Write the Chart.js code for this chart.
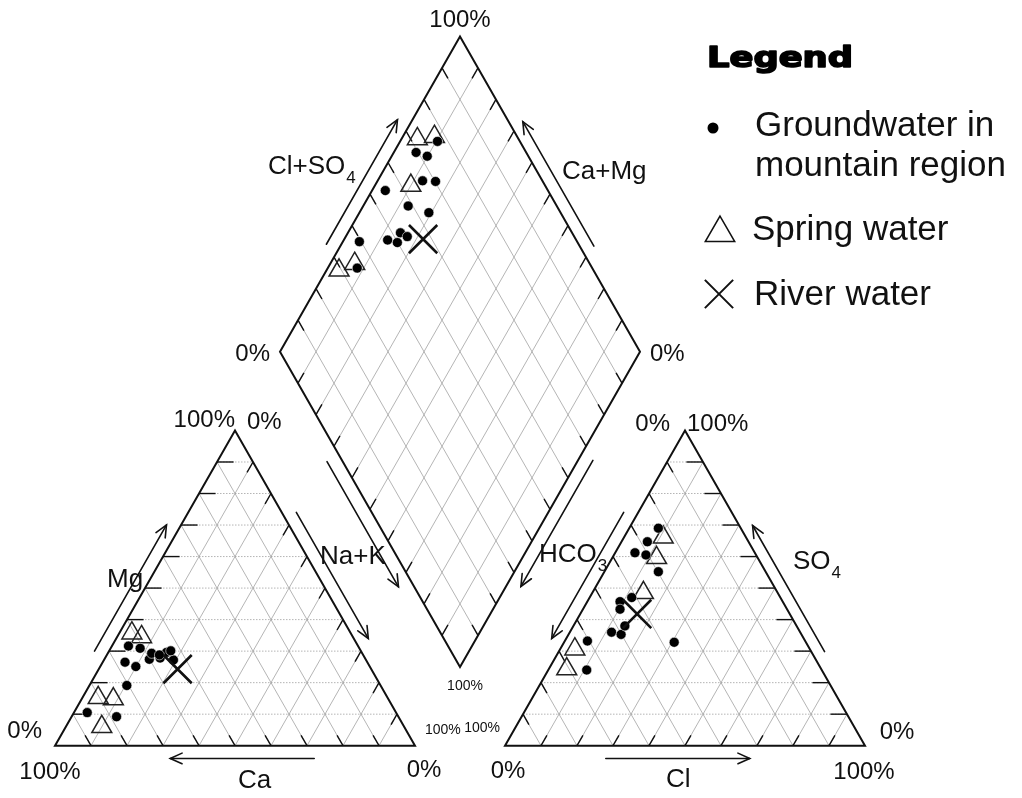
<!DOCTYPE html>
<html>
<head>
<meta charset="utf-8">
<title>Piper diagram</title>
<script src="https://cdn.jsdelivr.net/npm/chart.js@4.4.1/dist/chart.umd.min.js"></script>
<style>
  html, body { margin: 0; padding: 0; background: #ffffff; }
  #box { position: relative; width: 1022px; height: 798px; }
</style>
</head>
<body>
<div id="box"><canvas id="piper"></canvas></div>
<script>
// ---------- Sample chemistry (meq %) ----------
// Groundwater in mountain region
const gwCa   = [70.5, 67.3, 65.0, 60.1, 54.2, 85.8, 78.3, 53.5, 63.8, 58.5, 56.9, 56.6, 52.8, 60.9];
const gwMg   = [19.1, 26.5, 25.1, 27.4, 29.6, 10.5,  9.2, 27.2, 31.6, 29.3, 27.8, 28.8, 30.1, 30.9];
const gwNaK  = [10.4,  6.2,  9.9, 12.5, 16.2,  3.7, 12.5, 19.3,  4.6, 12.2, 15.3, 14.6, 17.1,  8.2];
const gwHCO3 = [22.9, 30.6, 28.1, 33.3, 29.8, 45.2, 41.3, 36.6, 60.5, 52.4, 50.1, 47.7, 46.4, 65.3];
const gwCl   = [ 8.1,  8.9,  7.2,  5.5, 15.0,  9.1, 11.7, 30.6,  6.3, 11.6, 14.6, 14.3, 10.3, 10.7];
const gwSO4  = [69.0, 60.5, 64.7, 61.2, 55.2, 45.7, 47.0, 32.8, 33.2, 36.0, 35.3, 38.0, 43.3, 24.0];

// Spring water
const spCa   = [76.4, 80.4, 84.0, 60.8, 58.7];
const spMg   = [14.8, 15.2,  6.0, 35.7, 34.5];
const spNaK  = [ 8.8,  4.4, 10.0,  3.5,  6.8];
const spHCO3 = [23.0, 28.1, 37.3, 70.7, 65.3];
const spCl   = [10.9, 12.3, 14.2,  5.0,  4.1];
const spSO4  = [66.1, 59.6, 48.5, 24.3, 30.6];

// River water
const rvCa   = [53.8];
const rvMg   = [24.3];
const rvNaK  = [21.9];
const rvHCO3 = [42.4];
const rvCl   = [15.8];
const rvSO4  = [41.8];

// Grid / tick positions (percent) and text
const gridSteps = [10, 20, 30, 40, 50, 60, 70, 80, 90];
const legendTitle = 'Legend';
const legendGroundwater = ['Groundwater in', 'mountain region'];
const legendSpring = 'Spring water';
const legendRiver = 'River water';

// ---------- Piper geometry (data units: triangle side = 100) ----------
const SIDE = 100, GAP = 25, K = Math.sqrt(3) / 2;
const cat = { a: [0, 0], b: [SIDE, 0], c: [SIDE / 2, SIDE * K] };                       // Ca, Na+K, Mg corners
const ani = { a: [SIDE + GAP, 0], b: [2 * SIDE + GAP, 0], c: [SIDE + GAP + SIDE / 2, SIDE * K] }; // HCO3, Cl, SO4 corners
const dB = [SIDE + GAP / 2, GAP * K];
const dL = [dB[0] - SIDE / 2, dB[1] + SIDE * K];
const dR = [dB[0] + SIDE / 2, dB[1] + SIDE * K];
const dT = [dB[0], dB[1] + 2 * SIDE * K];

const lerp = (p, q, t) => [p[0] + (q[0] - p[0]) * t, p[1] + (q[1] - p[1]) * t];

function cationXY(ca, mg, na) {
  const s = ca + mg + na;
  return { x: cat.a[0] + (na + mg / 2) / s * SIDE, y: mg / s * SIDE * K };
}
function anionXY(hco3, cl, so4) {
  const s = hco3 + cl + so4;
  return { x: ani.a[0] + (cl + so4 / 2) / s * SIDE, y: so4 / s * SIDE * K };
}
function diamondXY(ca, mg, na, hco3, cl, so4) {
  const u = (ca + mg) / (ca + mg + na);
  const v = (cl + so4) / (hco3 + cl + so4);
  return { x: dB[0] + (v - u) * SIDE / 2, y: dB[1] + (u + v) * SIDE * K };
}
function samplePoints(ca, mg, na, hco3, cl, so4) {
  const pts = [];
  ca.forEach((_, i) => pts.push(cationXY(ca[i], mg[i], na[i])));
  ca.forEach((_, i) => pts.push(anionXY(hco3[i], cl[i], so4[i])));
  ca.forEach((_, i) => pts.push(diamondXY(ca[i], mg[i], na[i], hco3[i], cl[i], so4[i])));
  return pts;
}

// Page placement of the data space
const VIEW = { ox: 55, oy: 745.7, kx: 3.6, ky: 3.64, w: 1022, h: 798 };

// ---------- Frame, grid, ticks, arrows ----------
const ticks = [
  { p: cat.a, q: cat.c, d: [1, 0], len: 4.6 },
  { p: cat.a, q: cat.b, d: [-0.5, K], len: 3.3 },
  { p: cat.c, q: cat.b, d: [-0.5, -K], len: 3.3 },
  { p: ani.c, q: ani.a, d: [0.5, -K], len: 3.3 },
  { p: ani.a, q: ani.b, d: [0.5, K], len: 3.3 },
  { p: ani.b, q: ani.c, d: [-1, 0], len: 4.6 },
  { p: dL, q: dT, d: [0.5, -K], len: 3.3 },
  { p: dR, q: dT, d: [-0.5, -K], len: 3.3 },
  { p: dB, q: dL, d: [0.5, K], len: 3.3 },
  { p: dB, q: dR, d: [-0.5, K], len: 3.3 }
];
const catMid = [50, SIDE * K / 3], aniMid = [SIDE + GAP + 50, SIDE * K / 3], diaMid = [dB[0], dB[1] + SIDE * K];
const arrows = [
  { p: cat.a, q: cat.c, f0: 0.28, f1: 0.68, off: 3.5, ref: catMid },
  { p: cat.c, q: cat.b, f0: 0.28, f1: 0.68, off: 3.5, ref: catMid },
  { p: cat.b, q: cat.a, f0: 0.28, f1: 0.68, off: 3.5, ref: catMid },
  { p: ani.c, q: ani.a, f0: 0.28, f1: 0.68, off: 3.5, ref: aniMid },
  { p: ani.b, q: ani.c, f0: 0.28, f1: 0.68, off: 3.2, ref: aniMid },
  { p: ani.a, q: ani.b, f0: 0.28, f1: 0.68, off: 3.5, ref: aniMid },
  { p: dL, q: dT, f0: 0.32, f1: 0.715, off: 3.6, ref: diaMid },
  { p: dR, q: dT, f0: 0.315, f1: 0.71, off: 3.4, ref: diaMid },
  { p: dL, q: dB, f0: 0.327, f1: 0.724, off: 3.8, ref: diaMid },
  { p: dR, q: dB, f0: 0.324, f1: 0.724, off: 3.6, ref: diaMid }
];

function pixelHelpers(chart) {
  const sx = chart.scales.x, sy = chart.scales.y;
  return p => [sx.getPixelForValue(p[0]), sy.getPixelForValue(p[1])];
}

const piperFrame = {
  id: 'piperFrame',
  beforeDatasetsDraw(chart) {
    const ctx = chart.ctx, P = pixelHelpers(chart);
    const seg = (p, q) => { const a = P(p), b = P(q); ctx.beginPath(); ctx.moveTo(a[0], a[1]); ctx.lineTo(b[0], b[1]); ctx.stroke(); };
    ctx.save();
    // interior grid
    ctx.strokeStyle = '#9c9c9c';
    ctx.lineWidth = 0.75;
    [cat, ani].forEach(tri => {
      gridSteps.forEach(s => {
        const t = s / 100;
        ctx.setLineDash([]);
        seg(lerp(tri.a, tri.b, t), lerp(tri.a, tri.c, t));
        seg(lerp(tri.a, tri.b, t), lerp(tri.b, tri.c, 1 - t));
        ctx.setLineDash([1.5, 1.5]);
        seg(lerp(tri.a, tri.c, t), lerp(tri.b, tri.c, t));
      });
    });
    ctx.setLineDash([]);
    gridSteps.forEach(s => {
      const t = s / 100;
      seg(lerp(dB, dR, t), lerp(dL, dT, t));
      seg(lerp(dB, dL, t), lerp(dR, dT, t));
    });
    // ticks
    ctx.strokeStyle = '#111';
    ctx.lineWidth = 1.4;
    ticks.forEach(tk => {
      gridSteps.forEach(s => {
        const a = lerp(tk.p, tk.q, s / 100);
        seg(a, [a[0] + tk.d[0] * tk.len, a[1] + tk.d[1] * tk.len]);
      });
    });
    // outlines
    ctx.lineWidth = 2;
    ctx.lineJoin = 'miter';
    [[cat.a, cat.b, cat.c], [ani.a, ani.b, ani.c], [dB, dR, dT, dL]].forEach(poly => {
      ctx.beginPath();
      poly.forEach((p, i) => { const a = P(p); i ? ctx.lineTo(a[0], a[1]) : ctx.moveTo(a[0], a[1]); });
      ctx.closePath();
      ctx.stroke();
    });
    // axis arrows
    ctx.lineWidth = 1.6;
    ctx.lineCap = 'round';
    arrows.forEach(ar => {
      const dx = ar.q[0] - ar.p[0], dy = ar.q[1] - ar.p[1], L = Math.hypot(dx, dy);
      let n = [dy / L, -dx / L];
      const m = lerp(ar.p, ar.q, 0.5);
      if (n[0] * (m[0] - ar.ref[0]) + n[1] * (m[1] - ar.ref[1]) < 0) n = [-n[0], -n[1]];
      const s0 = lerp(ar.p, ar.q, ar.f0), s1 = lerp(ar.p, ar.q, ar.f1);
      const a = P([s0[0] + n[0] * ar.off, s0[1] + n[1] * ar.off]);
      const b = P([s1[0] + n[0] * ar.off, s1[1] + n[1] * ar.off]);
      ctx.beginPath(); ctx.moveTo(a[0], a[1]); ctx.lineTo(b[0], b[1]); ctx.stroke();
      const ang = Math.atan2(b[1] - a[1], b[0] - a[0]), hl = 13, hw = 0.42;
      ctx.beginPath();
      ctx.moveTo(b[0] - hl * Math.cos(ang - hw), b[1] - hl * Math.sin(ang - hw));
      ctx.lineTo(b[0], b[1]);
      ctx.lineTo(b[0] - hl * Math.cos(ang + hw), b[1] - hl * Math.sin(ang + hw));
      ctx.stroke();
    });
    ctx.restore();
  }
};

// ---------- Text: corner percentages, axis names, legend ----------
const FONT = '"Liberation Sans", Arial, sans-serif';
const cornerText = [
  { at: cat.c, t: '100%', dx: 0, dy: -10, al: 'right', sz: 24 },
  { at: cat.c, t: '0%', dx: 12, dy: -8, al: 'left', sz: 24 },
  { at: cat.a, t: '0%', dx: -13, dy: -14, al: 'right', sz: 24 },
  { at: cat.a, t: '100%', dx: -5, dy: 27, al: 'center', sz: 24 },
  { at: cat.b, t: '0%', dx: 9, dy: 25, al: 'center', sz: 24 },
  { at: cat.b, t: '100%', dx: 10, dy: -16, al: 'left', sz: 14 },
  { at: ani.a, t: '100%', dx: -5, dy: -18, al: 'right', sz: 14 },
  { at: ani.a, t: '0%', dx: 3, dy: 26, al: 'center', sz: 24 },
  { at: ani.c, t: '0%', dx: -15, dy: -6, al: 'right', sz: 24 },
  { at: ani.c, t: '100%', dx: 2, dy: -6, al: 'left', sz: 24 },
  { at: ani.b, t: '0%', dx: 32, dy: -13, al: 'center', sz: 24 },
  { at: ani.b, t: '100%', dx: -1, dy: 27, al: 'center', sz: 24 },
  { at: dT, t: '100%', dx: 0, dy: -16, al: 'center', sz: 24 },
  { at: dL, t: '0%', dx: -10, dy: 3, al: 'right', sz: 24 },
  { at: dR, t: '0%', dx: 10, dy: 3, al: 'left', sz: 24 },
  { at: dB, t: '100%', dx: 5, dy: 19, al: 'center', sz: 14 }
];
// axis names: main text, subscript, left x, middle y (pixels)
const axisText = [
  { t: 'Mg', sub: '', x: 107, y: 580 },
  { t: 'Na+K', sub: '', x: 320, y: 557 },
  { t: 'Ca', sub: '', x: 238, y: 781 },
  { t: 'HCO', sub: '3', x: 539, y: 555 },
  { t: 'SO', sub: '4', x: 793, y: 562 },
  { t: 'Cl', sub: '', x: 666, y: 780 },
  { t: 'Cl+SO', sub: '4', x: 268, y: 167 },
  { t: 'Ca+Mg', sub: '', x: 562, y: 172 }
];

function markerAt(ctx, style, r, bw, x, y, fill, stroke) {
  ctx.save();
  ctx.fillStyle = fill; ctx.strokeStyle = stroke; ctx.lineWidth = bw;
  Chart.helpers.drawPoint(ctx, { pointStyle: style, radius: r, rotation: 0, borderWidth: bw }, x, y);
  ctx.restore();
}

const piperText = {
  id: 'piperText',
  afterDraw(chart) {
    const ctx = chart.ctx, P = pixelHelpers(chart);
    ctx.save();
    ctx.fillStyle = '#111';
    ctx.textBaseline = 'middle';
    cornerText.forEach(c => {
      const a = P(c.at);
      ctx.font = c.sz + 'px ' + FONT;
      ctx.textAlign = c.al;
      ctx.fillText(c.t, a[0] + c.dx, a[1] + c.dy);
    });
    ctx.textAlign = 'left';
    axisText.forEach(a => {
      ctx.font = '26px ' + FONT;
      ctx.fillText(a.t, a.x, a.y);
      if (a.sub) {
        const w = ctx.measureText(a.t).width;
        ctx.font = '17px ' + FONT;
        ctx.fillText(a.sub, a.x + w + 1, a.y + 11);
      }
    });
    // legend
    ctx.textBaseline = 'alphabetic';
    ctx.font = 'bold 28px "DejaVu Sans", sans-serif';
    const tw = ctx.measureText(legendTitle).width;
    ctx.save();
    ctx.translate(707, 67);
    ctx.scale(146 / tw, 1);
    ctx.strokeStyle = '#000';
    ctx.lineWidth = 1.6;
    ctx.lineJoin = 'round';
    ctx.fillStyle = '#000';
    ctx.strokeText(legendTitle, 0, 0);
    ctx.fillText(legendTitle, 0, 0);
    ctx.restore();
    ctx.font = '35px ' + FONT;
    ctx.fillText(legendGroundwater[0], 755, 136);
    ctx.fillText(legendGroundwater[1], 755, 176);
    ctx.fillText(legendSpring, 752, 240);
    ctx.fillText(legendRiver, 754, 305);
    markerAt(ctx, 'circle', 5.5, 0, 713, 128, '#000', '#000');
    markerAt(ctx, 'triangle', 17, 1.5, 720, 233, 'rgba(0,0,0,0)', '#111');
    markerAt(ctx, 'crossRot', 20, 2, 719, 294, '#111', '#111');
    ctx.restore();
  }
};

// ---------- Chart ----------
new Chart(document.getElementById('piper'), {
  type: 'scatter',
  data: {
    datasets: [
      {
        label: 'River water',
        data: samplePoints(rvCa, rvMg, rvNaK, rvHCO3, rvCl, rvSO4),
        pointStyle: 'crossRot', pointRadius: 20, pointBorderWidth: 2.6,
        pointBorderColor: '#111', pointBackgroundColor: '#111', clip: false
      },
      {
        label: 'Groundwater in mountain region',
        data: samplePoints(gwCa, gwMg, gwNaK, gwHCO3, gwCl, gwSO4),
        pointStyle: 'circle', pointRadius: 5, pointBorderWidth: 0.8,
        pointBorderColor: 'rgba(255,255,255,0.7)', pointBackgroundColor: '#000', clip: false
      },
      {
        label: 'Spring water',
        data: samplePoints(spCa, spMg, spNaK, spHCO3, spCl, spSO4),
        pointStyle: 'triangle', pointRadius: 11.5, pointBorderWidth: 1.5,
        pointBorderColor: '#222', pointBackgroundColor: 'rgba(0,0,0,0)', clip: false
      }
    ]
  },
  options: {
    responsive: true,
    maintainAspectRatio: false,
    animation: false,
    events: [],
    layout: { padding: 0, autoPadding: false },
    scales: {
      x: { type: 'linear', display: false, min: -VIEW.ox / VIEW.kx, max: (VIEW.w - VIEW.ox) / VIEW.kx },
      y: { type: 'linear', display: false, min: -(VIEW.h - VIEW.oy) / VIEW.ky, max: VIEW.oy / VIEW.ky }
    },
    plugins: { legend: { display: false }, tooltip: { enabled: false } }
  },
  plugins: [piperFrame, piperText]
});
</script>
</body>
</html>
